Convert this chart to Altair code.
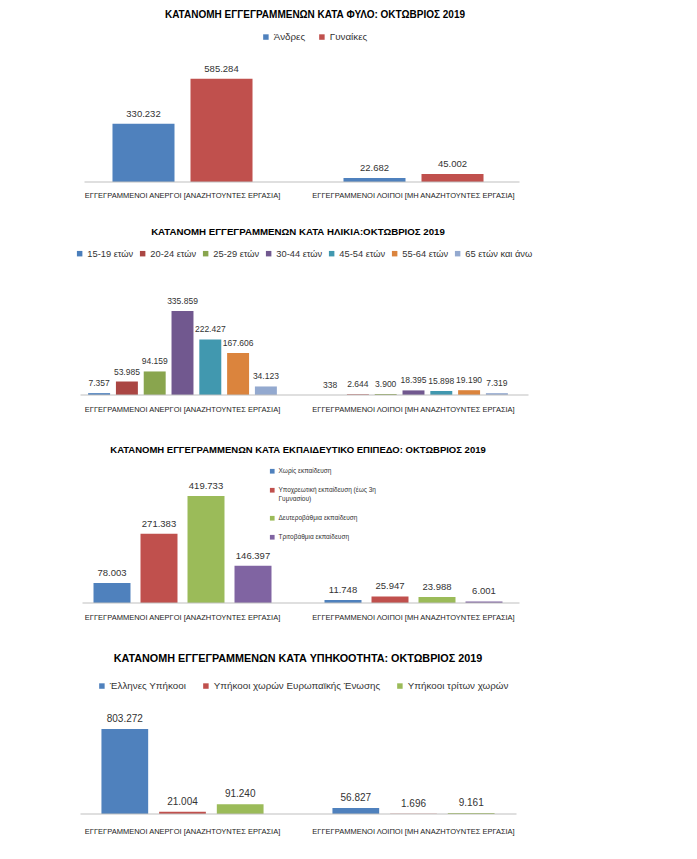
import altair as alt
import pandas as pd

FONT = "Liberation Sans"

# ---------------- data ----------------
categories = [
    "ΕΓΓΕΓΡΑΜΜΕΝΟΙ ΑΝΕΡΓΟΙ [ΑΝΑΖΗΤΟΥΝΤΕΣ ΕΡΓΑΣΙΑ]",
    "ΕΓΓΕΓΡΑΜΜΕΝΟΙ ΛΟΙΠΟΙ [ΜΗ ΑΝΑΖΗΤΟΥΝΤΕΣ ΕΡΓΑΣΙΑ]",
]

sex_series = ["Άνδρες", "Γυναίκες"]
sex_unemployed = [330232, 585284]
sex_other = [22682, 45002]

age_series = ["15-19 ετών", "20-24 ετών", "25-29 ετών", "30-44 ετών",
              "45-54 ετών", "55-64 ετών", "65 ετών και άνω"]
age_unemployed = [7357, 53985, 94159, 335859, 222427, 167606, 34123]
age_other = [338, 2644, 3900, 18395, 15898, 19190, 7319]

edu_series = ["Χωρίς εκπαίδευση",
              "Υποχρεωτική εκπαίδευση (έως 3η Γυμνασίου)",
              "Δευτεροβάθμια εκπαίδευση",
              "Τριτοβάθμια εκπαίδευση"]
edu_unemployed = [78003, 271383, 419733, 146397]
edu_other = [11748, 25947, 23988, 6001]

cit_series = ["Έλληνες Υπήκοοι", "Υπήκοοι χωρών Ευρωπαϊκής Ένωσης",
              "Υπήκοοι τρίτων χωρών"]
cit_unemployed = [803272, 21004, 91240]
cit_other = [56827, 1696, 9161]

titles = [
    "ΚΑΤΑΝΟΜΗ ΕΓΓΕΓΡΑΜΜΕΝΩΝ ΚΑΤΑ ΦΥΛΟ: ΟΚΤΩΒΡΙΟΣ 2019",
    "ΚΑΤΑΝΟΜΗ ΕΓΓΕΓΡΑΜΜΕΝΩΝ ΚΑΤΑ ΗΛΙΚΙΑ:ΟΚΤΩΒΡΙΟΣ  2019",
    "ΚΑΤΑΝΟΜΗ ΕΓΓΕΓΡΑΜΜΕΝΩΝ ΚΑΤΑ ΕΚΠΑΙΔΕΥΤΙΚΟ ΕΠΙΠΕΔΟ: ΟΚΤΩΒΡΙΟΣ  2019",
    "ΚΑΤΑΝΟΜΗ ΕΓΓΕΓΡΑΜΜΕΝΩΝ ΚΑΤΑ ΥΠΗΚΟΟΤΗΤΑ: ΟΚΤΩΒΡΙΟΣ  2019",
]

sex_colors = ["#4F81BD", "#C0504D"]
age_colors = ["#4A7EBB", "#AA4643", "#89A54E", "#71588F", "#4198AF", "#DB843D", "#93A9CF"]
edu_colors = ["#4F81BD", "#C0504D", "#9BBB59", "#8064A2"]
cit_colors = ["#4F81BD", "#C0504D", "#9BBB59"]


def make_df(series, unemp, other):
    rows = []
    for s, v in zip(series, unemp):
        rows.append({"cat": categories[0], "series": s, "value": v})
    for s, v in zip(series, other):
        rows.append({"cat": categories[1], "series": s, "value": v})
    df = pd.DataFrame(rows)
    df["label"] = df["value"].map(lambda v: f"{v:,}".replace(",", "."))
    return df


W = 462


def panel(df, series, colors, title, ymax, height, pin, pout, legend,
          label_size, label_pad, base_x, title_size=10, title_dx=0,
          title_offset=12):
    x = alt.X("cat:N", sort=categories,
              scale=alt.Scale(paddingInner=0, paddingOuter=0),
              axis=alt.Axis(title=None, labelAngle=0, ticks=False, domain=False,
                            labelFont=FONT, labelFontSize=7.5, labelColor="#222222",
                            labelPadding=label_pad, labelLimit=300))
    xo = alt.XOffset("series:N", sort=series,
                     scale=alt.Scale(paddingInner=pin, paddingOuter=pout))
    y = alt.Y("value:Q", scale=alt.Scale(domain=[0, ymax]), axis=None)
    base = alt.Chart(df)
    bars = base.mark_bar().encode(
        x=x, xOffset=xo, y=y,
        color=alt.Color("series:N", sort=series,
                        scale=alt.Scale(domain=series, range=colors),
                        legend=legend),
    )
    text = base.mark_text(baseline="bottom", dy=-5, font=FONT,
                          fontSize=label_size, color="#333333").encode(
        x=x, xOffset=xo, y=y, text="label:N")
    rule = alt.Chart(pd.DataFrame({"v": [0]})).mark_rule(
        color="#BFBFBF", strokeWidth=1).encode(
        x=alt.value(base_x[0]), x2=alt.value(base_x[1]),
        y=alt.Y("v:Q", scale=alt.Scale(domain=[0, ymax]), axis=None))
    return alt.layer(bars, text, rule).properties(
        width=W, height=height,
        title=alt.TitleParams(title, font=FONT, fontSize=title_size, fontWeight="bold",
                              color="#000000", anchor="middle", dx=title_dx,
                              offset=title_offset),
    )


def hlegend(x, y, size=9.5, colpad=8):
    return alt.Legend(title=None, orient="none", legendX=x, legendY=y,
                      direction="horizontal", columns=10, symbolType="square",
                      symbolSize=30, symbolStrokeWidth=0, labelFont=FONT,
                      labelFontSize=size, labelColor="#333333", columnPadding=colpad,
                      labelOffset=3, padding=0, labelLimit=400)


c1 = panel(make_df(sex_series, sex_unemployed, sex_other), sex_series, sex_colors,
           titles[0], 680000, 120, 0.205, 0.583,
           hlegend(194, -30, 9.8, 11), 9.5, 9, (17.5, 452.5), 10, 17, 12)

c2 = panel(make_df(age_series, age_unemployed, age_other), age_series, age_colors,
           titles[1], 440000, 110, 0.21, 0.76,
           hlegend(8, -36, 9.3, 4), 8.5, 10.5, (13.5, 461.5), 9.7, 0, 12)

edu_legend = alt.Legend(
    title=None, orient="none", legendX=202, legendY=-10, direction="vertical",
    symbolType="square", symbolSize=22, symbolStrokeWidth=0, labelFont=FONT,
    labelFontSize=6.5, labelColor="#333333", rowPadding=12, labelOffset=3, padding=0,
    labelExpr="datum.label == 'Υποχρεωτική εκπαίδευση (έως 3η Γυμνασίου)' ? "
              "['Υποχρεωτική εκπαίδευση (έως 3η', 'Γυμνασίου)'] : datum.label")

c3 = panel(make_df(edu_series, edu_unemployed, edu_other), edu_series, edu_colors,
           titles[2], 490000, 125, 0.213, 0.564,
           edu_legend, 9.5, 10.5, (15.5, 452.5), 9.5, 0, 14)

c4 = panel(make_df(cit_series, cit_unemployed, cit_other), cit_series, cit_colors,
           titles[3], 1040000, 110, 0.19, 0.597,
           hlegend(30, -23, 9.8, 14), 10, 13.5, (13.5, 449.5), 10.8, 0, 17)


def indep(ch):
    return ch.resolve_scale(color="independent", x="independent", y="independent",
                            xOffset="independent").resolve_legend(color="independent")


top = indep(alt.vconcat(c1, c2, spacing=28))
bottom = indep(alt.vconcat(c3, c4, spacing=32))
chart = indep(alt.vconcat(top, bottom, spacing=31)).properties(
    padding={"left": 59, "top": 2, "right": 5, "bottom": 5}
).configure_view(stroke=None)

chart.save("out.html", embed_options={"renderer": "svg", "actions": False})
